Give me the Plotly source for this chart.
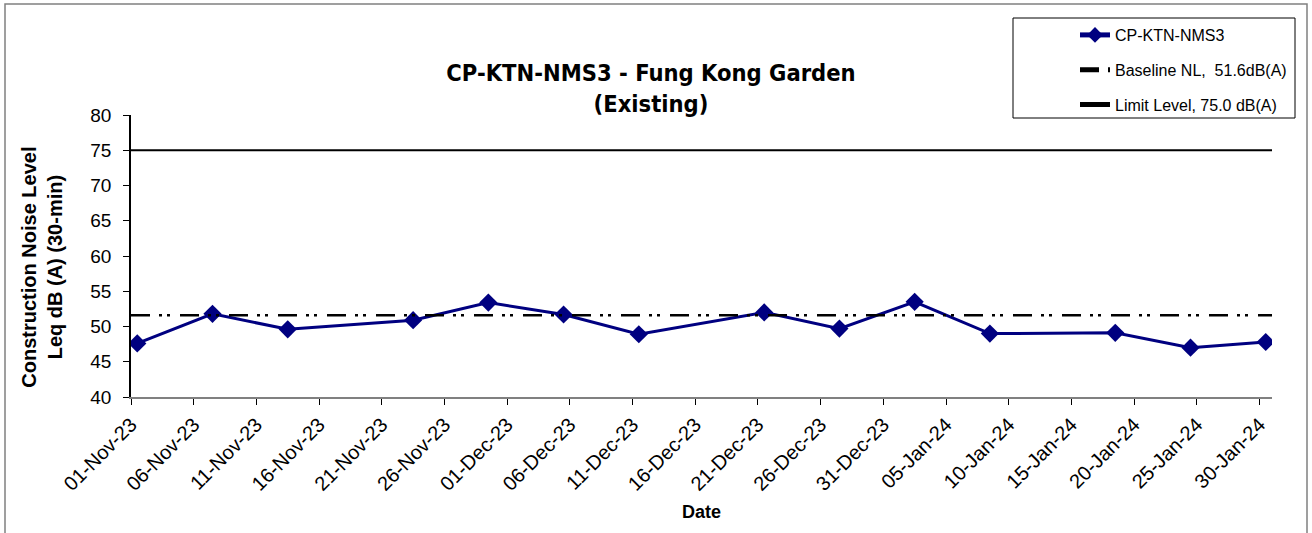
import pandas as pd
import plotly.graph_objects as go

# ---- data ----
dates = ["2023-11-01", "2023-11-07", "2023-11-13", "2023-11-23", "2023-11-29",
         "2023-12-05", "2023-12-11", "2023-12-21", "2023-12-27", "2024-01-02",
         "2024-01-08", "2024-01-18", "2024-01-24", "2024-01-30"]
leq = [47.6, 51.8, 49.6, 50.9, 53.4, 51.7, 48.9, 52.0, 49.7, 53.5,
       49.0, 49.1, 47.0, 47.8]
baseline_value = 51.6
limit_value = 75.0
axis_start = "2023-11-01"
axis_end = "2024-01-31"
y_ticks = [40, 45, 50, 55, 60, 65, 70, 75, 80]

series_name = "CP-KTN-NMS3"
baseline_name = "Baseline NL,  51.6dB(A)"
limit_name = "Limit Level, 75.0 dB(A)"

# Excel date axis plots each day in the middle of its slot
x_pts = pd.to_datetime(dates) + pd.Timedelta(hours=12)
x_full = [axis_start, axis_end]

FONT = "Liberation Sans, Arial, sans-serif"
NB = "\u00a0" * 4

fig = go.Figure()
fig.add_trace(go.Scatter(
    x=x_pts, y=leq, name=series_name, mode="lines+markers", legendgroup="a",
    line=dict(color="#000080", width=3),
    marker=dict(symbol="diamond", size=14, color="#000080")))
fig.add_trace(go.Scatter(
    x=x_full, y=[baseline_value] * 2, name=baseline_name, mode="lines", legendgroup="b",
    line=dict(color="black", width=2.5, dash="19px,9px,3px,5px,3px,10px")))
fig.add_trace(go.Scatter(
    x=x_full, y=[limit_value] * 2, name=limit_name, mode="lines", legendgroup="c",
    line=dict(color="black", width=2)))

W, H = 1312, 533
L, T = 131, 115
R = W - 1272
B = H - 397
pw, ph = W - L - R, H - T - B

def px_x(p):
    return (p - L) / pw

def px_y(p):
    return (H - B - p) / ph

fig.update_layout(
    width=W, height=H,
    margin=dict(l=L, r=R, t=T, b=B, autoexpand=False),
    paper_bgcolor="white", plot_bgcolor="white",
    font=dict(family=FONT, color="black"),
    title=dict(
        text="CP-KTN-NMS3 - Fung Kong Garden<br>(Existing)",
        font=dict(family="Liberation Sans Narrow, DejaVu Sans Condensed, Arial", size=23.5, color="black", weight="bold"),
        x=651 / W, xref="container", xanchor="center",
        y=1 - 81 / H, yref="container", yanchor="middle"),
    showlegend=True,
    legend=dict(
        x=1075 / W, y=1 - 18 / H, xref="container", yref="container",
        xanchor="left", yanchor="top",
        bgcolor="rgba(0,0,0,0)", borderwidth=0,
        font=dict(family=FONT, size=16, color="black"),
        tracegroupgap=11, itemsizing="constant"),
    xaxis=dict(
        type="date", range=[axis_start, axis_end], automargin=False,
        tick0=axis_start, dtick=5 * 86400000, tickformat="%d-%b-%y",
        tickangle=-45, tickfont=dict(size=20, family=FONT),
        showgrid=False, zeroline=False,
        showline=True, linecolor="#808080", linewidth=2,
        ticks="outside", ticklen=6, tickcolor="black", tickwidth=1,
        title=dict(text="<b>Date</b>", font=dict(size=18, family=FONT), standoff=11)),
    yaxis=dict(
        range=[40, 80], tickvals=y_ticks, automargin=False,
        tickfont=dict(size=19, family=FONT), ticklabelstandoff=8,
        showgrid=False, zeroline=False,
        showline=True, linecolor="black", linewidth=1.5,
        ticks="outside", ticklen=6, tickcolor="black", tickwidth=1,
        title=dict(text="<b>Construction Noise Level" + NB + "<br>Leq dB (A) (30-min)" + NB + "</b>",
                   font=dict(size=20, family=FONT), standoff=22)),
)

# outer chart frame
fig.add_shape(type="rect", xref="paper", yref="paper",
              x0=px_x(5), x1=px_x(1307), y0=px_y(560), y1=px_y(4),
              line=dict(color="#808080", width=1.5), fillcolor="rgba(0,0,0,0)", layer="below")
# legend frame
fig.add_shape(type="rect", xref="paper", yref="paper",
              x0=px_x(1013), x1=px_x(1295), y0=px_y(118), y1=px_y(18),
              line=dict(color="black", width=1), fillcolor="white", layer="below")

fig.write_html("out.html", config={"displayModeBar": False},
               post_script="document.body.style.margin='0';")
